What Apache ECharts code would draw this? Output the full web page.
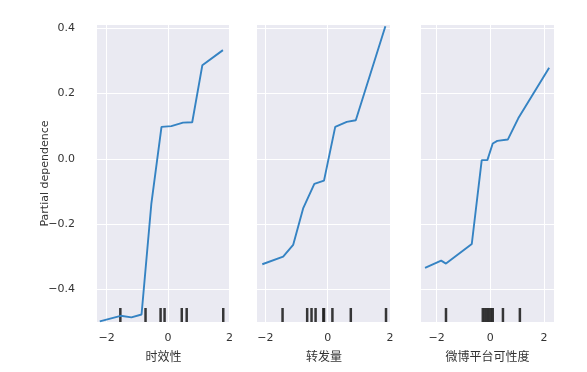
<!DOCTYPE html>
<html>
<head>
<meta charset="utf-8">
<script src="https://cdn.jsdelivr.net/npm/echarts@6/dist/echarts.min.js"></script>
<style>
html,body{margin:0;padding:0;background:#fff;}
#c{width:587px;height:372px;}
</style>
</head>
<body>
<div id="c"></div>
<script>
// feature names
const featureNames = ['时效性', '转发量', '微博平台可性度'];
// partial dependence curves
const pd1X = [-2.22, -1.54, -1.19, -0.86, -0.54, -0.21, 0.11, 0.49, 0.79, 1.12, 1.79];
const pd1Y = [-0.498, -0.481, -0.486, -0.477, -0.137, 0.098, 0.100, 0.111, 0.112, 0.287, 0.333];
const pd2X = [-2.10, -1.43, -1.11, -0.79, -0.43, -0.12, 0.24, 0.61, 0.90, 1.85];
const pd2Y = [-0.323, -0.300, -0.264, -0.152, -0.077, -0.067, 0.098, 0.113, 0.118, 0.406];
const pd3X = [-2.43, -1.83, -1.65, -0.69, -0.32, -0.11, 0.09, 0.26, 0.65, 1.04, 2.19];
const pd3Y = [-0.334, -0.312, -0.321, -0.261, -0.004, -0.004, 0.047, 0.055, 0.059, 0.124, 0.279];
// deciles (rug marks)
const dec1 = [-1.55, -0.73, -0.24, -0.11, 0.45, 0.61, 1.80];
const dec2 = [-1.45, -0.66, -0.52, -0.39, -0.14, -0.12, 0.15, 0.74, 1.87];
const dec3 = [-1.65, -0.28, -0.20, -0.12, -0.05, 0.03, 0.09, 0.47, 1.10];
// axis ranges and ticks
const xRanges = [[-2.31, 2.02], [-2.27, 2.03], [-2.58, 2.37]];
const yRange = [-0.5, 0.41];
const xTicks = [-2, 0, 2];
const yTicks = [-0.4, -0.2, 0, 0.2, 0.4];

const pdX = [pd1X, pd2X, pd3X];
const pdY = [pd1Y, pd2Y, pd3Y];
const decs = [dec1, dec2, dec3];

const gridPos = [
  {left: 97, width: 133},
  {left: 257, width: 134},
  {left: 421, width: 133}
];
const textColor = '#333';
const fontFam = 'DejaVu Sans';

const grids = [], xAxes = [], yAxes = [], series = [];
for (let i = 0; i < 3; i++) {
  grids.push({left: gridPos[i].left, width: gridPos[i].width, top: 25, height: 297,
    show: true, backgroundColor: '#EAEAF2', borderWidth: 0});
  xAxes.push({
    type: 'value', gridIndex: i, min: xRanges[i][0], max: xRanges[i][1],
    axisLine: {show: false}, axisTick: {show: false, customValues: xTicks},
    axisLabel: {customValues: xTicks, color: textColor, fontSize: 11, fontFamily: fontFam, margin: 11,
      formatter: v => (v < 0 ? '\u2212' : '') + Math.abs(v)},
    splitLine: {show: true, lineStyle: {color: '#fff', width: 1}},
    name: featureNames[i], nameLocation: 'middle', nameGap: 28,
    nameTextStyle: {color: textColor, fontSize: 12, fontFamily: 'Noto Sans CJK SC'}
  });
  yAxes.push({
    type: 'value', gridIndex: i, min: yRange[0], max: yRange[1],
    axisLine: {show: false}, axisTick: {show: false, customValues: yTicks},
    axisLabel: {show: i === 0, customValues: yTicks, color: textColor, fontSize: 11, fontFamily: fontFam, margin: 22,
      formatter: v => (v < 0 ? '\u2212' : '') + Math.abs(v).toFixed(1)},
    splitLine: {show: true, lineStyle: {color: '#fff', width: 1}},
    name: i === 0 ? 'Partial dependence' : '', nameLocation: 'middle', nameGap: 46, nameRotate: 90,
    nameMoveOverlap: false,
    nameTextStyle: {color: textColor, fontSize: 11, fontFamily: fontFam}
  });
  series.push({
    type: 'line', xAxisIndex: i, yAxisIndex: i, showSymbol: false, symbol: 'none',
    lineStyle: {color: '#3583c3', width: 1.9}, clip: true, z: 3,
    data: pdX[i].map((x, k) => [x, pdY[i][k]])
  });
  series.push({
    type: 'scatter', xAxisIndex: i, yAxisIndex: i, symbol: 'rect', symbolSize: [2.5, 14],
    symbolOffset: [0, -7], itemStyle: {color: '#222', opacity: 0.9}, silent: true, z: 2,
    data: decs[i].map(x => [x, yRange[0]])
  });
}

const chart = echarts.init(document.getElementById('c'), null, {renderer: 'canvas'});
chart.setOption({
  animation: false,
  backgroundColor: '#fff',
  grid: grids, xAxis: xAxes, yAxis: yAxes, series: series
});
</script>
</body>
</html>
